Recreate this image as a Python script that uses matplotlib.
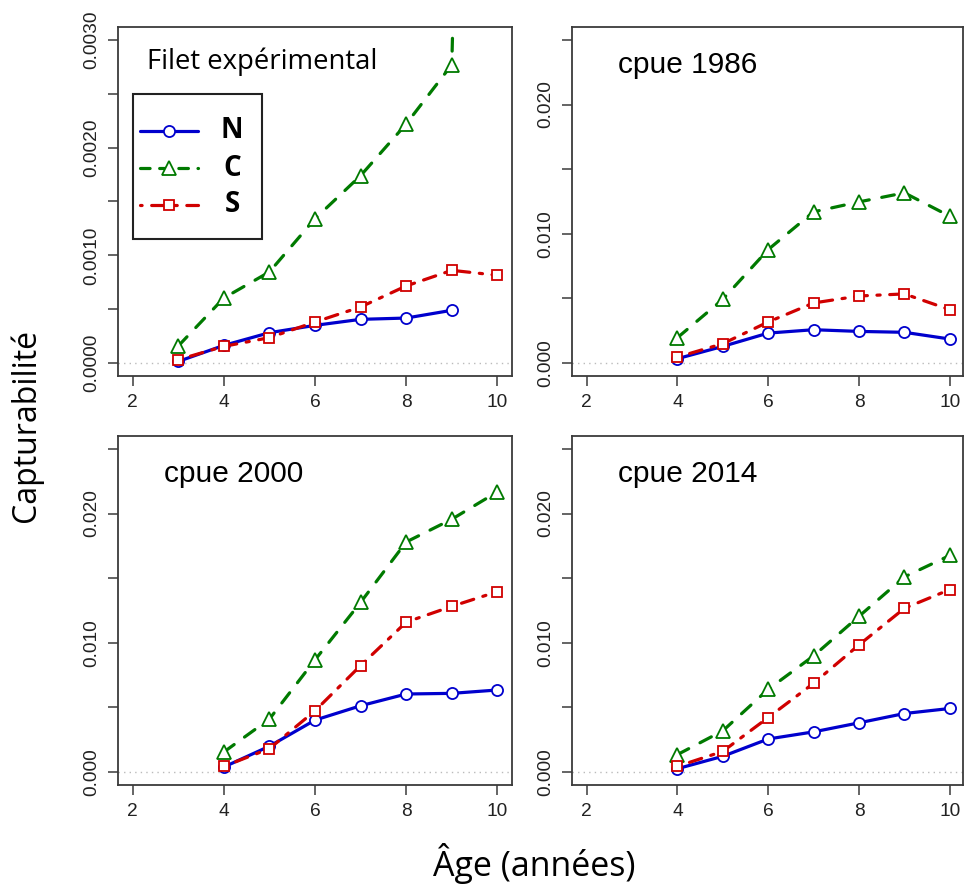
import numpy as np
import matplotlib
matplotlib.use("Agg")
import matplotlib.pyplot as plt
from matplotlib.lines import Line2D
from matplotlib.patches import Rectangle

# ---- data -------------------------------------------------------------
ages_filet = [3, 4, 5, 6, 7, 8, 9, 10]
filet_N = [0.000015, 0.000164, 0.000282, 0.000350, 0.000406, 0.000418, 0.000490, np.nan]
filet_C = [0.000158, 0.000604, 0.000846, 0.00134, 0.00174, 0.00222, 0.00277, 0.0200]
filet_S = [0.000031, 0.000155, 0.000236, 0.000381, 0.000521, 0.000716, 0.000861, 0.000815]

ages_cpue = [4, 5, 6, 7, 8, 9, 10]
cpue1986_N = [0.00034, 0.00129, 0.00232, 0.00258, 0.00245, 0.00238, 0.00186]
cpue1986_C = [0.00196, 0.00493, 0.00878, 0.01170, 0.01247, 0.01317, 0.01136]
cpue1986_S = [0.00046, 0.00150, 0.00318, 0.00465, 0.00519, 0.00535, 0.00413]

cpue2000_N = [0.00039, 0.00200, 0.00402, 0.00513, 0.00604, 0.00609, 0.00635]
cpue2000_C = [0.00155, 0.00410, 0.00868, 0.01313, 0.01780, 0.01956, 0.02168]
cpue2000_S = [0.00044, 0.00181, 0.00474, 0.00824, 0.01160, 0.01282, 0.01396]

cpue2014_N = [0.00026, 0.00122, 0.00256, 0.00311, 0.00381, 0.00453, 0.00492]
cpue2014_C = [0.00135, 0.00319, 0.00640, 0.00899, 0.01205, 0.01510, 0.01676]
cpue2014_S = [0.00044, 0.00160, 0.00422, 0.00687, 0.00984, 0.01267, 0.01412]

regions = ["N", "C", "S"]
panel_titles = ["Filet expérimental", "cpue 1986", "cpue 2000", "cpue 2014"]
x_ticks = [2, 4, 6, 8, 10]
y_ticks_filet = [0.0, 0.0005, 0.0010, 0.0015, 0.0020, 0.0025, 0.0030]
y_labels_filet = ["0.0000", "", "0.0010", "", "0.0020", "", "0.0030"]
y_ticks_cpue = [0.0, 0.005, 0.010, 0.015, 0.020, 0.025]
y_labels_cpue = ["0.000", "", "0.010", "", "0.020", ""]

# ---- styles -----------------------------------------------------------
BLUE = "#0000CD"
GREEN = "#007A00"
RED = "#D00000"
FRAME = "#3a3a3a"
SANS = "Liberation Sans"
HUMANIST = "Open Sans"

styles = {
    "N": dict(color=BLUE, marker="o", ms=8.0, linestyle="-"),
    "C": dict(color=GREEN, marker="^", ms=10.5, dashes=(4, 4)),
    "S": dict(color=RED, marker="s", ms=7.6, dashes=(1, 3, 4, 3)),
}

W_PX, H_PX = 964, 886
fig = plt.figure(figsize=(W_PX / 100, H_PX / 100), dpi=100)


def add_axes_px(left, top, width, height):
    return fig.add_axes([left / W_PX, 1 - (top + height) / H_PX, width / W_PX, height / H_PX])


def draw_series(ax, x, y, key):
    st = styles[key]
    kw = dict(color=st["color"], lw=2.3, marker=st["marker"], ms=st["ms"],
              mfc="white", mec=st["color"], mew=1.3,
              dash_capstyle="round", solid_capstyle="round",
              dash_joinstyle="round", solid_joinstyle="round")
    if "dashes" in st:
        kw["dashes"] = st["dashes"]
    else:
        kw["linestyle"] = st["linestyle"]
    ax.plot(x, y, **kw)


def style_axes(ax, yticks, ylabels, ylim, xlim):
    ax.set_xlim(*xlim)
    ax.set_ylim(*ylim)
    ax.axhline(0, color="#bbbbbb", lw=1.0, ls=(0, (1, 3)), zorder=0)
    ax.set_xticks(x_ticks)
    ax.set_xticklabels([str(t) for t in x_ticks])
    ax.set_yticks(yticks)
    ax.set_yticklabels(ylabels)
    for sp in ax.spines.values():
        sp.set_color(FRAME)
        sp.set_linewidth(1.3)
    ax.tick_params(direction="out", length=7, width=1.1, color=FRAME,
                   labelsize=13.8, labelcolor="#222222")
    ax.tick_params(axis="x", pad=6)
    ax.tick_params(axis="y", pad=6)
    for lab in ax.get_yticklabels():
        lab.set_rotation(90)
        lab.set_rotation_mode("anchor")
        lab.set_ha("center")
        lab.set_va("bottom")
    for lab in ax.get_xticklabels() + ax.get_yticklabels():
        lab.set_fontfamily(SANS)


panels = [
    (add_axes_px(118, 27, 394, 349), ages_filet, (filet_N, filet_C, filet_S),
     y_ticks_filet, y_labels_filet, (-0.00012, 0.00312), (1.68, 10.32)),
    (add_axes_px(572, 27, 391, 349), ages_cpue, (cpue1986_N, cpue1986_C, cpue1986_S),
     y_ticks_cpue, y_labels_cpue, (-0.001, 0.026), (1.68, 10.29)),
    (add_axes_px(118, 436, 394, 349), ages_cpue, (cpue2000_N, cpue2000_C, cpue2000_S),
     y_ticks_cpue, y_labels_cpue, (-0.001, 0.026), (1.68, 10.32)),
    (add_axes_px(572, 436, 391, 349), ages_cpue, (cpue2014_N, cpue2014_C, cpue2014_S),
     y_ticks_cpue, y_labels_cpue, (-0.001, 0.026), (1.68, 10.29)),
]

for i, (ax, ages, series, yt, yl, ylim, xlim) in enumerate(panels):
    style_axes(ax, yt, yl, ylim, xlim)
    for key, vals in zip(regions, series):
        draw_series(ax, ages, vals, key)
    if i == 0:
        ax.text(0.074, 0.90, panel_titles[i], transform=ax.transAxes,
                fontsize=19.8, family=HUMANIST, va="center", ha="left")
    else:
        ax.text(0.117, 0.892, panel_titles[i], transform=ax.transAxes,
                fontsize=21.5, family=SANS, va="center", ha="left")

# ---- legend box in the first panel ------------------------------------
ax0 = panels[0][0]
L0, T0, W0, H0 = 118, 27, 394, 349


def to_ax(px, py):
    return (px - L0) / W0, (T0 + H0 - py) / H0


bx0, by0 = to_ax(133, 239)
bx1, by1 = to_ax(262, 94)
ax0.add_patch(Rectangle((bx0, by0), bx1 - bx0, by1 - by0, transform=ax0.transAxes,
                        fill=True, facecolor="white", edgecolor="#222222", lw=1.5, zorder=5))
legend_dashes = {"C": (0, (3, 3)), "S": (0.5, (1, 3, 4, 3))}
for key, row_y in zip(regions, [131, 168, 205]):
    st = styles[key]
    xa, ya = to_ax(140, row_y)
    xm, _ = to_ax(169, row_y)
    xb, _ = to_ax(198, row_y)
    kw = dict(color=st["color"], lw=2.3, marker=st["marker"], ms=st["ms"],
              mfc="white", mec=st["color"], mew=1.3, markevery=[1],
              dash_capstyle="round", solid_capstyle="round",
              transform=ax0.transAxes, zorder=6)
    if key in legend_dashes:
        kw["linestyle"] = legend_dashes[key]
    ax0.add_line(Line2D([xa, xm, xb], [ya, ya, ya], **kw))
    tx, _ = to_ax(232, row_y)
    ax0.text(tx, ya, key, transform=ax0.transAxes, fontsize=20, fontweight="bold",
             family=HUMANIST, ha="center", va="center", zorder=6)

# ---- shared axis titles -----------------------------------------------
fig.text(26 / W_PX, 1 - 425 / H_PX, "Capturabilité", rotation=90, fontsize=23,
         family=HUMANIST, ha="center", va="center")
fig.text(534 / W_PX, 1 - 864 / H_PX, "Âge (années)", fontsize=24.5,
         family=HUMANIST, ha="center", va="center")

fig.savefig("out.png", dpi=100, facecolor="white")
